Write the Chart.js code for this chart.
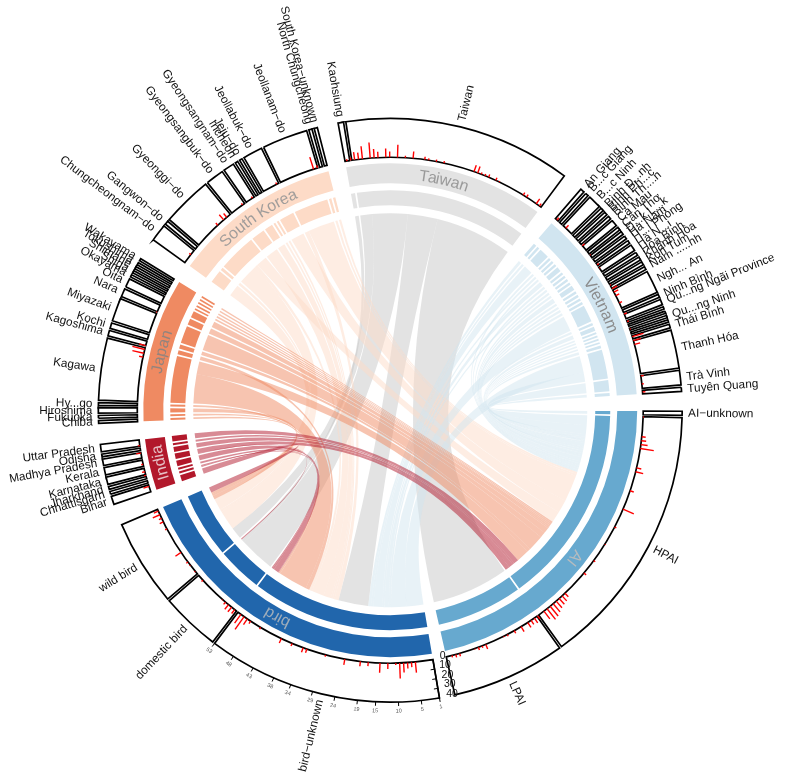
<!DOCTYPE html>
<html><head><meta charset="utf-8">
<style>html,body{margin:0;padding:0;background:#fff}canvas{display:block}</style>
<script src="https://cdn.jsdelivr.net/npm/chart.js@4/dist/chart.umd.min.js"></script>
</head><body><canvas id="c" width="788" height="775"></canvas>
<script>
// ---- DATA ----
const sectorNames=['AI','bird','India','Japan','South Korea','Taiwan','Vietnam'];
const aiCells=['AI−unknown','HPAI','LPAI'];
const birdCells=['bird−unknown','domestic bird','wild bird'];
const indiaCells=['Bihar','Chhattisgarh','Jharkhand','Karnataka','Kerala','Madhya Pradesh','Odisha','Uttar Pradesh'];
const indiaToWild=[1.8,0,0,0,0,0,0,0];
const indiaToDomestic=[0,.3,0,0,0,0,0,0];
const indiaToUnknown=[0,.3,.6,1.6,.2,0,0,0];
const indiaToHPAI=[0,0,0,0,1.4,1.4,.6,1.6];
const japanCells=['Chiba','Fukuoka','Hiroshima','Hy...go','Kagawa','Kagoshima','Kochi','Miyazaki','Nara','Oita','Okayama','Shiga','Shimane','Tokushima','Wakayama'];
const japanToWild=[.6,.6,1.2,0,0,0,0,0,0,0,0,0,0,0,0];
const japanToUnknown=[0,0,0,.6,9.5,1.2,0,0,0,0,0,0,0,0,0];
const japanToHPAI=[0,0,0,0,4.1,0,1.2,5.1,1.8,1.9,.5,.5,.5,.5,.5];
const koreaCells=['Chungcheongnam−do','Gangwon−do','Gyeonggi−do','Gyeongsangbuk−do','Gyeongsangnam−do','Incheon','Jeju−do','Jeollabuk−do','Jeollanam−do','North Chungcheong','South Korea−unknown'];
const koreaToWild=[3.8,.8,6.4,0,0,0,0,0,0,0,0];
const koreaToUnknown=[0,0,1,4,2.4,.6,.6,0,1.4,0,0];
const koreaToHPAI=[0,0,3.6,0,0,0,0,4.3,8.6,.7,.7];
const taiwanCells=['Kaohsiung','Taiwan'];
const taiwanToWild=[0,3.8];
const taiwanToDomestic=[1.2,11.5];
const taiwanToUnknown=[0,9.7];
const taiwanToLPAI=[0,25];
const vietnamCells=['An Giang','B...c Giang','B...c Ninh','Bình Đ...nh','Bình Ph...c','Bình Th....n','Cà Mau','Cần Thơ','Đ...k L...k','Hà Nam','H...i Phòng','Hà N...i','Hòa Bình','Khánh Hòa','Kon Tum','Nam .....nh','Ngh... An','Ninh Bình','Qu...ng Ngãi Province','','','Qu...ng Ninh','','Thái Bình','Thanh Hóa','Trà Vinh','Tuyên Quang'];
const vietnamToUnknown=[.9,.7,2.9,0,.7,0,1.4,0,.7,0,0,0,0,0,0,0,5,0,0,0,0,0,0,0,5.5,0,0];
const vietnamToHPAI=[0,0,0,.7,0,.7,0,.7,0,.7,.7,1.4,.7,.7,.7,.7,0,.7,1.2,.5,.5,.5,.5,.8,2.9,3.2,0];
const vietnamToAIUnknown=[0,0,0,0,0,0,0,0,0,0,0,0,0,0,0,0,0,0,0,0,0,0,0,0,0,0,.9];
const aiBars=[0,1,0,0,0,0,4,5,7,14, 0,0,0,0,5,8,0,0,0,0, 4,0,0,0,0,12,0,0,0,0, 2,0,0,0,0,1,0,0,0,0, 2,0,0,0,3,0,0,0,0,0, 0,5,7,8,9,11,13,14,10,0, 4,6,5,6,0,6,0,3,0,2, 1,0,0,0,0,5,2,3,1,0, 0,0,3,3,2,0];
const birdBars=[0,0,0,0,11,5,6,10,16,2, 0,6,0,10,0,0,4,0,5,0, 0,0,6,0,0,0,0,2,0,0, 0,0,4,5,0,0,3,0,0,5, 0,0,0,0,0,2,0,0,3,7, 16,11,0,5,6,6,3,1,0,0, 0,0,0,0,2,0,0,1,0,1, 2,0,0,7,0,0,0,0,0,0, 2,0,4,3,8,5];
const indiaBars=[0,6,0,0,2,3,0,2,0,0,5,0,2,0];
const japanBars=[0,0,0,0,0,0,0,0,0,0, 0,0,0,0,0,0,4,12,13,7, 0,0,0,0,0,0,0,0,1,0, 0,0,0,0,0,0,0,0];
const koreaBars=[0,0,2,0,0,0,0,0,0,0, 0,0,3,0,7,5,0,0,0,0, 2,0,0,2,0,0,0,0,0,0, 2,0,0,0,0,0,0,0,0,0, 13,3,0,0];
const taiwanBars=[2,3,8,7,13,0,16,9,6,0, 9,6,0,13,0,2,0,7,0,0, 3,2,0,2,0,2,0,0,0,0, 0,0,0,7,7,2,2,3,0,3, 1,0,0,0,0,0,0,3,3,0, 0,6,3];
const vietnamBars=[3,0,0,4,0,0,0,0,0,3, 0,0,1,0,0,2,1,0,0,0, 0,1,6,5,4,0,3,0,0,3, 0,2,0,1,0,12,8,6,0,0, 0,0,0,0,0,3,0,2,0,3];
const axisTicks=[0,10,20,30,40];
const unknownTicks=[1,5,10,15,19,24,29,34,38,43,48,53];

// ---- STYLE / LAYOUT ----
const sectorColors=['#67a9cf','#2166ac','#b2182b','#ef8a62','#fddbc7','#e3e3e3','#d1e5f0'];
const chordColors={India:'rgba(178,24,43,.5)',Japan:'rgba(239,138,98,.5)','South Korea':'rgba(253,219,199,.5)',Taiwan:'rgba(199,199,199,.5)',Vietnam:'rgba(209,229,240,.5)'};
const sectorTextColors=['rgba(190,190,190,.9)','rgba(190,190,190,.8)','rgba(235,210,213,.9)','rgba(130,130,130,.85)','rgba(150,150,150,.9)','rgba(150,150,150,.95)','rgba(135,135,135,.95)'];
const CELL_GAP=.5, CHORD_INSET=8;
const SECTOR_GAPS=[3.4,4.7,4.6,4.9,4.6,4.6,4.3];
const FONT='"Liberation Sans", Arial, sans-serif';

const sum=a=>a.reduce((p,v)=>p+v,0);
// link table built from the arrays above
const targetRank=['wild bird','domestic bird','bird−unknown','LPAI','HPAI','AI−unknown'];
const sources=[
 {sector:'India',cells:indiaCells,out:{'wild bird':indiaToWild,'domestic bird':indiaToDomestic,'bird−unknown':indiaToUnknown,'HPAI':indiaToHPAI}},
 {sector:'Japan',cells:japanCells,out:{'wild bird':japanToWild,'bird−unknown':japanToUnknown,'HPAI':japanToHPAI}},
 {sector:'South Korea',cells:koreaCells,out:{'wild bird':koreaToWild,'bird−unknown':koreaToUnknown,'HPAI':koreaToHPAI}},
 {sector:'Taiwan',cells:taiwanCells,out:{'wild bird':taiwanToWild,'domestic bird':taiwanToDomestic,'bird−unknown':taiwanToUnknown,'LPAI':taiwanToLPAI}},
 {sector:'Vietnam',cells:vietnamCells,out:{'bird−unknown':vietnamToUnknown,'HPAI':vietnamToHPAI,'AI−unknown':vietnamToAIUnknown}}
];
const targetTotal=n=>sum(sources.map(s=>s.out[n]?sum(s.out[n]):0));
const cellLists=[
 aiCells.map(n=>({name:n,v:targetTotal(n)})),
 birdCells.map(n=>({name:n,v:targetTotal(n)}))
];
sources.forEach(s=>cellLists.push(s.cells.map((n,i)=>({name:n,v:sum(Object.values(s.out).map(a=>a[i]))}))));

// doughnut rows
const T='rgba(0,0,0,0)';
const rows={cells:[],fill:[],bandCol:[],bw:[],meta:[],sect:[],sectCol:[]};
cellLists.forEach((list,si)=>{
  list.forEach((c,i)=>{
    rows.cells.push(c.v);rows.fill.push('#fff');rows.bandCol.push(sectorColors[si]);rows.bw.push(1.7);
    rows.meta.push({type:'cell',si,ci:i,name:c.name});
    if(i<list.length-1){rows.cells.push(CELL_GAP);rows.fill.push(T);rows.bandCol.push(T);rows.bw.push(0);rows.meta.push({type:'gap'});}
  });
  rows.cells.push(SECTOR_GAPS[si]);rows.fill.push(T);rows.bandCol.push(T);rows.bw.push(0);rows.meta.push({type:'gap'});
  rows.sect.push(sum(list.map(c=>c.v))+CELL_GAP*(list.length-1),SECTOR_GAPS[si]);
  rows.sectCol.push(sectorColors[si],T);
});
const sectorBars=[aiBars,birdBars,indiaBars,japanBars,koreaBars,taiwanBars,vietnamBars];

const overlay={id:'overlay',afterDatasetsDraw(chart){
  const ctx=chart.ctx;
  const track=chart.getDatasetMeta(0).data, bands=chart.getDatasetMeta(2).data, inner=chart.getDatasetMeta(4).data;
  const cx=track[0].x, cy=track[0].y;
  const rIn=track[0].innerRadius, rOut=track[0].outerRadius;
  const pt=(a,r)=>[cx+r*Math.cos(a),cy+r*Math.sin(a)];
  // locate arcs
  const cellArc={};
  rows.meta.forEach((m,i)=>{if(m.type==='cell'){cellArc[m.si+'/'+m.ci]={start:track[i].startAngle,end:track[i].endAngle,name:m.name};}});
  // --- chords
  const rChord=inner[0].innerRadius-CHORD_INSET;
  const links=[];
  sources.forEach((s,k)=>{
    s.cells.forEach((n,ci)=>{
      const arc=cellArc[(k+2)+'/'+ci];
      const per=(arc.end-arc.start)/sum(Object.values(s.out).map(a=>a[ci]));
      let a=arc.start;
      targetRank.forEach(t=>{
        const v=s.out[t]?s.out[t][ci]:0;
        if(!v)return;
        links.push({sector:s.sector,t,v,a1:a,a2:a+v*per});a+=v*per;
      });
    });
  });
  const targetArcs={};
  [0,1].forEach(si=>{cellLists[si].forEach((c,ci)=>{targetArcs[c.name]=cellArc[si+'/'+ci];});});
  targetRank.forEach(t=>{
    const arc=targetArcs[t];
    const inc=links.filter(l=>l.t===t).sort((x,y)=>y.a1-x.a1);
    const per=(arc.end-arc.start)/sum(inc.map(l=>l.v));
    let b=arc.start;
    inc.forEach(l=>{l.b1=b;l.b2=b+l.v*per;b=l.b2;});
  });
  ['Taiwan','South Korea','Vietnam','Japan','India'].forEach(name=>{
    ctx.fillStyle=chordColors[name];
    links.filter(l=>l.sector===name).forEach(l=>{
      ctx.beginPath();
      ctx.arc(cx,cy,rChord,l.a1,l.a2);
      const p=pt(l.b1,rChord);
      ctx.quadraticCurveTo(cx,cy,p[0],p[1]);
      ctx.arc(cx,cy,rChord,l.b1,l.b2);
      const q=pt(l.a1,rChord);
      ctx.quadraticCurveTo(cx,cy,q[0],q[1]);
      ctx.closePath();ctx.fill();
    });
  });
  // --- red spikes
  const unitR=(rOut-rIn)/axisTicks[axisTicks.length-1];
  const sectArcs=[];
  for(let i=0;i<sectorNames.length;i++)sectArcs.push(bands[i*2]);
  ctx.strokeStyle='#ff0000';ctx.lineWidth=1.4;ctx.lineCap='butt';
  sectorBars.forEach((bars,si)=>{
    const A=sectArcs[si];const step=(A.endAngle-A.startAngle)/bars.length;
    bars.forEach((h,i)=>{
      if(!h)return;
      const a=A.startAngle+(i+.5)*step;
      const p=pt(a,rIn),q=pt(a,rIn+h*unitR);
      ctx.beginPath();ctx.moveTo(p[0],p[1]);ctx.lineTo(q[0],q[1]);ctx.stroke();
    });
  });
  // --- cell labels (radial)
  ctx.fillStyle='#111';ctx.font='11.8px '+FONT;ctx.textBaseline='middle';
  Object.values(cellArc).forEach(c=>{
    if(!c.name)return;
    const a=(c.start+c.end)/2, p=pt(a,rOut+6);
    const n=((a%(2*Math.PI))+2*Math.PI)%(2*Math.PI);
    const left=n>Math.PI/2&&n<Math.PI*1.5;
    ctx.save();ctx.translate(p[0],p[1]);
    ctx.rotate(left?a+Math.PI:a);
    ctx.textAlign=left?'right':'left';
    ctx.fillText(c.name,0,0);ctx.restore();
  });
  // --- sector names along the outer band
  ctx.font='16px '+FONT;ctx.textAlign='center';ctx.textBaseline='alphabetic';
  sectorNames.forEach((nm,si)=>{
    const A=sectArcs[si];const mid=(A.startAngle+A.endAngle)/2;
    const r=(A.innerRadius+A.outerRadius)/2-5.5;
    const w=ctx.measureText(nm).width;
    let off=-w/2;
    ctx.fillStyle=sectorTextColors[si];
    for(let j=0;j<nm.length;j++){
      const cw=ctx.measureText(nm.slice(0,j+1)).width-ctx.measureText(nm.slice(0,j)).width;
      const a=mid+(off+cw/2)/r;
      const p=pt(a,r);
      ctx.save();ctx.translate(p[0],p[1]);ctx.rotate(a+Math.PI/2);ctx.fillText(nm[j],0,0);ctx.restore();
      off+=cw;
    }
  });
  // --- y axis on the bird−unknown cell
  const u=cellArc['1/0'];
  const perp=[Math.sin(u.start),-Math.cos(u.start)];
  ctx.strokeStyle='#000';ctx.lineWidth=1.4;
  const s0=pt(u.start,rIn),s1=pt(u.start,rOut);
  ctx.beginPath();ctx.moveTo(s0[0],s0[1]);ctx.lineTo(s1[0],s1[1]);ctx.stroke();
  ctx.fillStyle='#111';ctx.font='10.5px '+FONT;ctx.textAlign='center';ctx.textBaseline='middle';
  axisTicks.forEach(t=>{
    const p=pt(u.start,rIn+t*unitR);
    ctx.lineWidth=1;ctx.beginPath();ctx.moveTo(p[0],p[1]);ctx.lineTo(p[0]-perp[0]*4,p[1]-perp[1]*4);ctx.stroke();
    ctx.fillText(String(t),p[0]+perp[0]*(10+t*.07),p[1]+perp[1]*(10+t*.07)-2);
  });
  // --- index ticks under bird−unknown
  const last=unknownTicks[unknownTicks.length-1];
  ctx.font='5.5px '+FONT;ctx.fillStyle='#555';
  unknownTicks.forEach(t=>{
    const a=u.start+(t-1)/(last-1)*(u.end-u.start);
    const p=pt(a,rOut),q=pt(a,rOut+4),l=pt(a,rOut+9);
    ctx.strokeStyle='#000';ctx.lineWidth=1;ctx.beginPath();ctx.moveTo(p[0],p[1]);ctx.lineTo(q[0],q[1]);ctx.stroke();
    ctx.save();ctx.translate(l[0],l[1]);ctx.rotate(a-Math.PI/2);ctx.fillText(String(t),0,0);ctx.restore();
  });
}};

new Chart(document.getElementById('c'),{
  type:'doughnut',
  data:{labels:rows.cells.map((_,i)=>String(i)),datasets:[
    {label:'cells',data:rows.cells,backgroundColor:rows.fill,borderColor:'#000',borderWidth:rows.bw,weight:39,borderJoinStyle:'miter'},
    {label:'space1',data:[1],backgroundColor:T,borderWidth:0,weight:6},
    {label:'sectors',data:rows.sect,backgroundColor:rows.sectCol,borderWidth:0,weight:20},
    {label:'space2',data:[1],backgroundColor:T,borderWidth:0,weight:7},
    {label:'inner cells',data:rows.cells,backgroundColor:rows.bandCol,borderWidth:0,weight:15}
  ]},
  options:{responsive:false,animation:false,rotation:90.2,cutout:205,events:[],
    layout:{padding:{left:97.5,right:105,top:117.5,bottom:72}},
    plugins:{legend:{display:false},tooltip:{enabled:false},title:{display:false}}},
  plugins:[overlay]
});
</script></body></html>
